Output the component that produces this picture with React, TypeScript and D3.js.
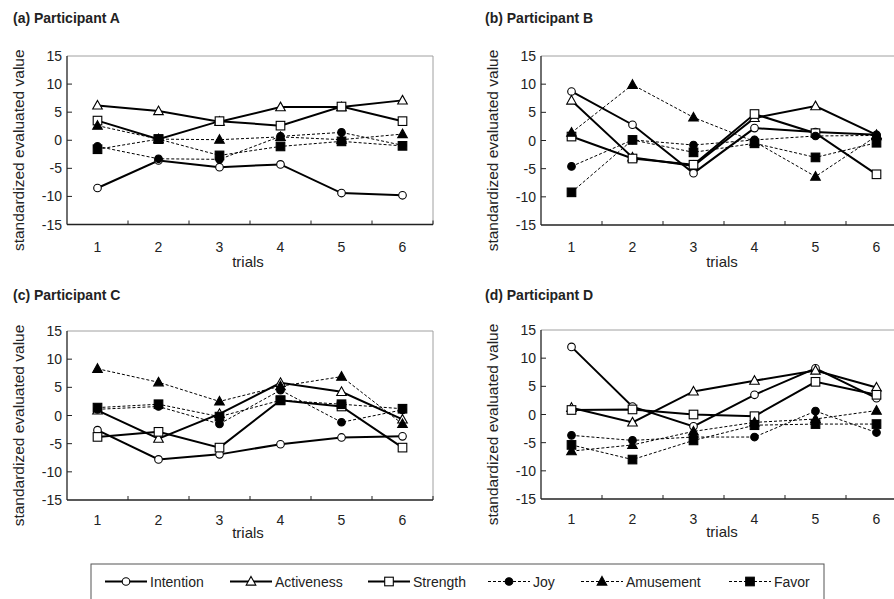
import React from 'react';
import * as d3 from 'd3';

const trials = [1, 2, 3, 4, 5, 6];
const seriesNames = ['Intention', 'Activeness', 'Strength', 'Joy', 'Amusement', 'Favor'];
const yTicks = [-15, -10, -5, 0, 5, 10, 15];
const panelTitles = ['(a) Participant A', '(b) Participant B', '(c) Participant C', '(d) Participant D'];

// rows: Intention, Activeness, Strength, Joy, Amusement, Favor
const valuesA = [
  [-8.5, -3.6, -4.8, -4.3, -9.4, -9.8],
  [6.2, 5.2, 3.3, 5.9, 5.9, 7.1],
  [3.5, 0.2, 3.4, 2.6, 6.0, 3.4],
  [-1.1, -3.3, -3.4, 0.7, 1.4, -0.9],
  [2.6, 0.2, 0.1, 0.6, 0.1, 1.1],
  [-1.6, 0.2, -2.7, -1.1, -0.2, -1.0],
];
const valuesB = [
  [8.7, 2.8, -5.8, 2.2, 1.5, 1.0],
  [7.1, -3.0, -4.5, 4.0, 6.1, 1.0],
  [0.7, -3.2, -4.3, 4.7, 1.3, -6.0],
  [-4.6, 0.1, -0.8, 0.1, 0.8, 0.9],
  [1.4, 9.9, 4.1, -0.2, -6.4, 0.8],
  [-9.2, 0.1, -2.1, -0.5, -3.0, -0.4],
];
const valuesC = [
  [-2.6, -7.8, -6.9, -5.1, -3.9, -3.7],
  [0.9, -4.1, 0.3, 5.8, 4.2, -0.7],
  [-3.8, -2.9, -5.7, 2.7, 1.6, -5.7],
  [1.1, 1.6, -1.5, 4.5, -1.2, 1.0],
  [8.3, 5.9, 2.5, 5.2, 6.9, -1.5],
  [1.4, 2.0, -0.2, 2.7, 2.0, 1.2],
];
const valuesD = [
  [12.0, 1.4, -2.1, 3.5, 8.2, 2.9],
  [1.2, -1.4, 4.1, 6.0, 7.8, 4.8],
  [0.8, 0.9, 0.0, -0.3, 5.8, 3.5],
  [-3.7, -4.6, -4.0, -4.0, 0.6, -3.2],
  [-6.5, -5.4, -3.0, -1.4, -0.8, 0.7],
  [-5.4, -8.0, -4.6, -1.9, -1.7, -1.7],
];
const panelValues = [valuesA, valuesB, valuesC, valuesD];

const FONT = '"Liberation Sans", Arial, Helvetica, sans-serif';
const dashed = [false, false, false, true, true, true];

// layout
const panelBoxes = [
  { left: 67, top: 56, bottom: 224.5, titleX: 13, titleY: 23, tickDy: 27, labelDy: 42 },
  { left: 541, top: 56, bottom: 225, titleX: 485, titleY: 23, tickDy: 27, labelDy: 42 },
  { left: 67, top: 331, bottom: 500, titleX: 13, titleY: 300, tickDy: 25, labelDy: 38 },
  { left: 541, top: 330, bottom: 499, titleX: 485, titleY: 300, tickDy: 25, labelDy: 38 },
];
const plotWidth = 366;

function Marker({ kind, x, y }: { kind: number; x: number; y: number }) {
  const filled = kind >= 3;
  const fill = filled ? '#000' : '#fff';
  const shape = kind % 3;
  if (shape === 0) {
    return <circle cx={x} cy={y} r={3.8} fill={fill} stroke="#000" strokeWidth={1.1} />;
  }
  if (shape === 1) {
    const p = d3.path();
    p.moveTo(x, y - 5);
    p.lineTo(x + 4.8, y + 3.6);
    p.lineTo(x - 4.8, y + 3.6);
    p.closePath();
    return <path d={p.toString()} fill={fill} stroke="#000" strokeWidth={1.1} />;
  }
  return <rect x={x - 4.3} y={y - 4.3} width={8.6} height={8.6} fill={fill} stroke="#000" strokeWidth={1.1} />;
}

function Panel({ idx }: { idx: number }) {
  const box = panelBoxes[idx];
  const values = panelValues[idx];
  const x = d3.scaleBand<number>().domain(trials).range([box.left, box.left + plotWidth]);
  const y = d3.scaleLinear().domain([-15, 15]).range([box.bottom, box.top]);
  const cx = (t: number) => (x(t) as number) + x.bandwidth() / 2;
  const line = d3
    .line<number>()
    .x((_, i) => cx(trials[i]))
    .y((v) => y(v));
  const right = box.left + plotWidth;
  const boundaries = trials.map((t) => (x(t) as number) + x.bandwidth());
  return (
    <g>
      <text x={box.titleX} y={box.titleY} fontFamily={FONT} fontWeight="bold" fontSize={14} fill="#222">
        {panelTitles[idx]}
      </text>
      {/* frame */}
      <line x1={box.left} x2={right} y1={y(15)} y2={y(15)} stroke="#a0a0a0" strokeWidth={1} />
      <line x1={right} x2={right} y1={y(15)} y2={y(-15)} stroke="#a0a0a0" strokeWidth={1} />
      <line x1={box.left} x2={box.left} y1={y(15)} y2={y(-15)} stroke="#222" strokeWidth={1.3} />
      <line x1={box.left} x2={right} y1={y(-15)} y2={y(-15)} stroke="#222" strokeWidth={1.3} />
      {yTicks.map((t) => (
        <g key={t}>
          {t > -15 && t < 15 && (
            <line x1={box.left} x2={box.left + 5} y1={y(t)} y2={y(t)} stroke="#222" strokeWidth={1} />
          )}
          <text x={box.left - 5} y={y(t) + 5} textAnchor="end" fontFamily={FONT} fontSize={14} fill="#222">
            {t}
          </text>
        </g>
      ))}
      {boundaries.map((b, i) => (
        <line key={i} x1={b} x2={b} y1={y(-15)} y2={y(-15) - 4} stroke="#222" strokeWidth={1} />
      ))}
      {trials.map((t) => (
        <text key={t} x={cx(t)} y={box.bottom + box.tickDy} textAnchor="middle" fontFamily={FONT} fontSize={14} fill="#222">
          {t}
        </text>
      ))}
      <text
        x={box.left + plotWidth / 2 - 2}
        y={box.bottom + box.labelDy}
        textAnchor="middle"
        fontFamily={FONT}
        fontSize={15}
        fill="#222"
      >
        trials
      </text>
      <text
        transform={`translate(${box.left - 43},${(box.top + box.bottom) / 2 + 10}) rotate(-90)`}
        textAnchor="middle"
        fontFamily={FONT}
        fontSize={15.5}
        fill="#222"
      >
        standardized evaluated value
      </text>
      {values.map((vals, s) => (
        <path
          key={'l' + s}
          d={line(vals) as string}
          fill="none"
          stroke="#000"
          strokeWidth={dashed[s] ? 1 : 2}
          strokeDasharray={dashed[s] ? '3,2' : undefined}
        />
      ))}
      {values.map((vals, s) => (
        <g key={'m' + s}>
          {vals.map((v, i) => (
            <Marker key={i} kind={s} x={cx(trials[i])} y={y(v)} />
          ))}
        </g>
      ))}
    </g>
  );
}

const legendX = [105, 230, 368, 488, 581, 729];

function Legend() {
  const ly = 581.5;
  return (
    <g>
      <rect x={91} y={564} width={733} height={60} fill="#fff" stroke="#555" strokeWidth={1} />
      {seriesNames.map((name, s) => (
        <g key={name}>
          <line
            x1={legendX[s]}
            x2={legendX[s] + 42}
            y1={ly}
            y2={ly}
            stroke="#000"
            strokeWidth={dashed[s] ? 1 : 2}
            strokeDasharray={dashed[s] ? '3,2' : undefined}
          />
          <Marker kind={s} x={legendX[s] + 21} y={ly} />
          <text x={legendX[s] + 45} y={ly + 5} fontFamily={FONT} fontSize={14} fill="#222">
            {name}
          </text>
        </g>
      ))}
    </g>
  );
}

export default function App() {
  return (
    <svg
      width={894}
      height={599}
      style={{ position: 'absolute', left: 0, top: 0, background: '#fff' }}
    >
      <rect x={0} y={0} width={894} height={599} fill="#fff" />
      {[0, 1, 2, 3].map((i) => (
        <Panel key={i} idx={i} />
      ))}
      <Legend />
    </svg>
  );
}
